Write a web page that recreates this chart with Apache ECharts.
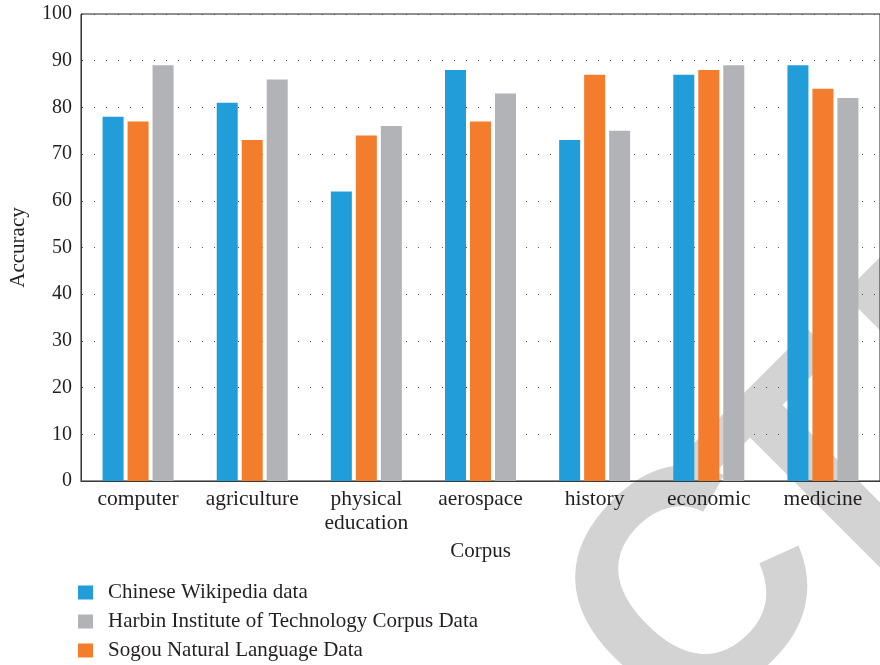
<!DOCTYPE html>
<html>
<head>
<meta charset="utf-8">
<script src="https://cdn.jsdelivr.net/npm/echarts@6/dist/echarts.min.js"></script>
<style>
  html, body { margin: 0; padding: 0; background: #fff; }
  #chart { width: 880px; height: 665px; }
</style>
</head>
<body>
<div id="chart"></div>
<script>
// Corpus categories and accuracy per data source
const categories = ['computer', 'agriculture', 'physical\neducation', 'aerospace', 'history', 'economic', 'medicine'];
const wikipediaData = [78, 81, 62, 88, 73, 87, 89];
const sogouData = [77, 73, 74, 77, 87, 88, 84];
const harbinData = [89, 86, 76, 83, 75, 89, 82];

const seriesNames = {
  wiki: 'Chinese Wikipedia data',
  harbin: 'Harbin Institute of Technology Corpus Data',
  sogou: 'Sogou Natural Language Data'
};

const FONT = '"Liberation Serif", "Times New Roman", serif';
const TEXT = '#231f20';

// Light grey "RETRACTED" stamp letters laid along a 45° line behind the plot.
// Each letter is placed by (u, v): u runs along the reading direction, v across it.
const stampLetters = [['R', -405, 930], ['A', -170, 930], ['C', 72, 922], ['T', 244, 936], ['E', 474, 936]];
const stamp = stampLetters.map(function (item) {
  const u = item[1], v = item[2];
  return {
    type: 'text',
    x: (u + v) / Math.SQRT2,
    y: (v - u) / Math.SQRT2,
    rotation: Math.PI / 4,
    z: -10,
    silent: true,
    style: {
      text: item[0],
      fill: '#d3d3d3',
      font: 'bold 320px "Liberation Sans", Arial, sans-serif',
      align: 'center',
      verticalAlign: 'middle',
      textAlign: 'center',
      textVerticalAlign: 'middle'
    }
  };
});

const chart = echarts.init(document.getElementById('chart'), null, { renderer: 'canvas' });

const option = {
  animation: false,
  backgroundColor: '#ffffff',
  graphic: stamp,
  grid: {
    left: 78, top: 14, width: 812, height: 467,
    show: true, borderColor: '#231f20', borderWidth: 1,
    backgroundColor: 'transparent'
  },
  legend: {
    orient: 'vertical',
    left: 78,
    top: 582,
    padding: 0,
    itemWidth: 15,
    itemHeight: 14,
    itemGap: 8,
    icon: 'rect',
    data: [seriesNames.wiki, seriesNames.harbin, seriesNames.sogou],
    textStyle: { fontFamily: FONT, fontSize: 21, lineHeight: 21, color: TEXT, padding: [0, 0, 0, 10] }
  },
  xAxis: {
    type: 'category',
    data: categories,
    axisTick: { show: false },
    axisLine: { lineStyle: { color: '#3a3a3a', width: 1 } },
    axisLabel: { interval: 0, color: TEXT, fontFamily: FONT, fontSize: 21.5, lineHeight: 24, margin: 6 },
    name: 'Corpus',
    nameLocation: 'middle',
    nameGap: 60,
    nameTextStyle: { color: TEXT, fontFamily: FONT, fontSize: 21 }
  },
  yAxis: {
    type: 'value',
    min: 0, max: 100, interval: 10,
    axisLine: { show: true, lineStyle: { color: '#3a3a3a', width: 1 } },
    axisTick: { show: false },
    axisLabel: { color: TEXT, fontFamily: FONT, fontSize: 20, margin: 9 },
    splitLine: { show: true, lineStyle: { color: '#4d4d4d', width: 1, type: [1, 11], dashOffset: 11 } },
    name: 'Accuracy',
    nameLocation: 'middle',
    nameRotate: 90,
    nameGap: 52,
    nameTextStyle: { color: TEXT, fontFamily: FONT, fontSize: 21 }
  },
  series: [
    { name: seriesNames.wiki, type: 'bar', data: wikipediaData, barWidth: 21, barGap: '19%', itemStyle: { color: '#219ed9' } },
    { name: seriesNames.sogou, type: 'bar', data: sogouData, barWidth: 21, barGap: '19%', itemStyle: { color: '#f47c2d' } },
    { name: seriesNames.harbin, type: 'bar', data: harbinData, barWidth: 21, barGap: '19%', itemStyle: { color: '#b2b3b6' } }
  ]
};

chart.setOption(option);
</script>
</body>
</html>
